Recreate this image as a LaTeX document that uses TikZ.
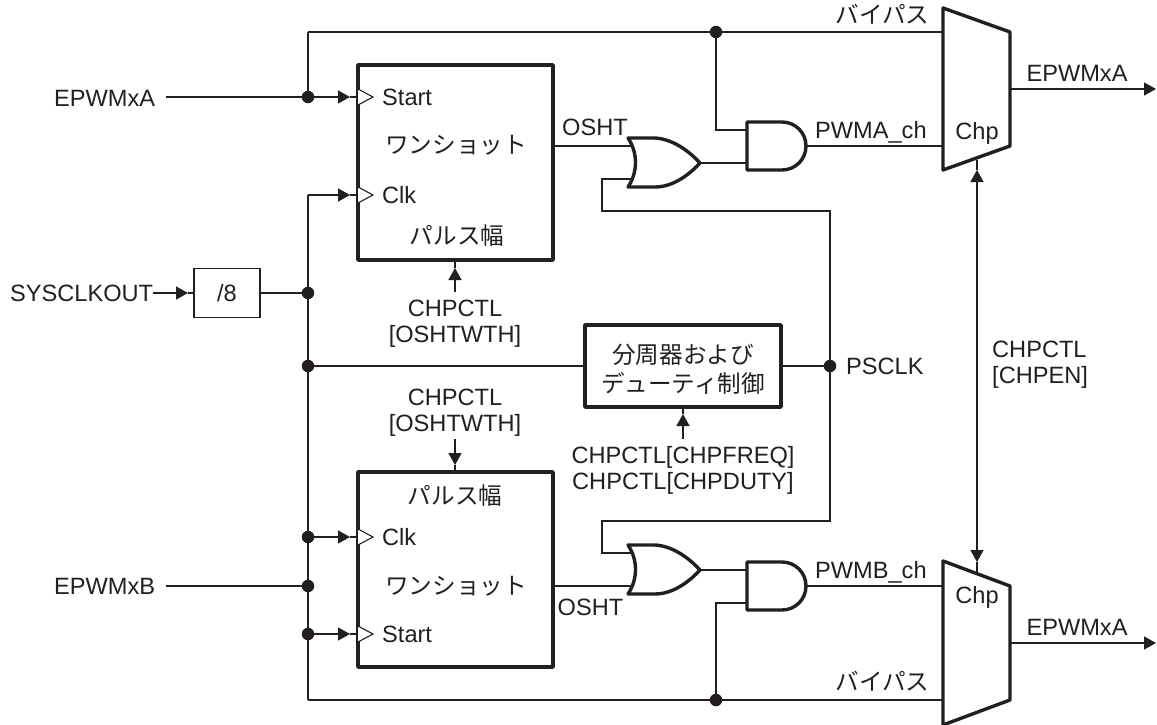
\documentclass[tikz,border=0pt]{standalone}
\usepackage{fontspec}
\setmainfont{Liberation Sans}
\newfontfamily\jp{Noto Sans CJK JP}
\usetikzlibrary{arrows.meta}
\definecolor{ink}{HTML}{231F20}
\tikzset{
  wire/.style={draw=ink,line width=1.4pt},
  arrowwire/.style={wire,-{Triangle[length=12pt,width=13pt]}},
  twoarrow/.style={wire,{Triangle[length=12pt,width=13pt]}-{Triangle[length=12pt,width=13pt]}},
  thick box/.style={draw=ink,fill=white,line width=3.6pt,line join=round,inner sep=0pt},
  block/.style={thick box,minimum width=195pt,minimum height=195pt},
  divbox/.style={draw=ink,fill=white,line width=1.4pt,minimum width=66pt,minimum height=49pt,inner sep=0pt,text=ink},
  dot/.style={circle,fill=ink,draw=none,minimum size=12.5pt,inner sep=0pt},
  lbl/.style={text=ink,inner sep=0pt,text height=17pt,text depth=0pt},
  lblL/.style={lbl,anchor=west},
  multi/.style={text=ink,inner sep=0pt,align=center},
  clkpin/.style={draw=ink,fill=white,line width=1.1pt,line join=miter},
  gate/.style={draw=ink,fill=white,line width=3.4pt,line join=round},
}
\begin{document}
\begin{tikzpicture}[x=1pt,y=-1pt,font=\fontsize{23.6}{26}\selectfont]
\useasboundingbox (0,0) rectangle (1157,725);
\fill[white] (0,0) rectangle (1157,725);

% junctions
\node[dot] (jTop) at (308,97) {};
\node[dot] (jClk) at (308,293) {};
\node[dot] (jDiv) at (308,366) {};
\node[dot] (jCb) at (308,537) {};
\node[dot] (jB) at (308,586) {};
\node[dot] (jSb) at (308,634) {};
\node[dot] (jByA) at (716,32) {};
\node[dot] (jByB) at (716,700) {};
\node[dot] (jPs) at (830,366) {};

% helper points
\coordinate (cTL) at (308,32);
\coordinate (cBL) at (308,700);
\coordinate (cClkT) at (308,195);
\coordinate (pinSa) at (358,97);
\coordinate (pinCa) at (358,195);
\coordinate (pinCb) at (358,537);
\coordinate (pinSb) at (358,634);
\coordinate (tipSa) at (350,97);
\coordinate (tipCa) at (350,195);
\coordinate (tipCb) at (350,537);
\coordinate (tipSb) at (350,634);
\coordinate (orAin1) at (632,146);
\coordinate (orAin2) at (632,179);
\coordinate (orAout) at (700,163);
\coordinate (orBin1) at (632,553);
\coordinate (orBin2) at (632,586);
\coordinate (orBout) at (700,570);
\coordinate (andAin1) at (747,130);
\coordinate (andAin2) at (747,163);
\coordinate (andAout) at (806,146);
\coordinate (andBin1) at (747,570);
\coordinate (andBin2) at (747,603);
\coordinate (andBout) at (806,586);
\coordinate (muxAby) at (943,32);
\coordinate (muxApw) at (943,146);
\coordinate (muxAout) at (1010,89);
\coordinate (muxAsel) at (977,160);
\coordinate (muxBby) at (943,700);
\coordinate (muxBpw) at (943,586);
\coordinate (muxBout) at (1010,643);
\coordinate (muxBsel) at (977,572);
\coordinate (endA) at (1156,89);
\coordinate (endB) at (1156,643);
\coordinate (tipSelA) at (977,170);
\coordinate (tipSelB) at (977,562);
\coordinate (sA) at (166,97);
\coordinate (sB) at (166,586);
\coordinate (sysEnd) at (153,293);
\coordinate (sysTip) at (188,293);
\coordinate (ctA) at (455,292);
\coordinate (ctAtip) at (455,268);
\coordinate (ctB) at (455,439);
\coordinate (ctBtip) at (455,465);
\coordinate (ctD) at (683,439);
\coordinate (ctDtip) at (683,414);
\coordinate (oshtA) at (553,146);
\coordinate (oshtB) at (553,586);

% blocks
\node[block] (osA) at (455.5,162.5) {};
\node[block] (osB) at (455.5,569.5) {};
\node[thick box,minimum width=196pt,minimum height=82pt,text=ink,align=center] (dv) at (683,366)
  {\rule{0pt}{26pt}\jp 分周器および\\[3pt]\jp デューティ制御};
\node[divbox] (d8) at (227,293) {/8};

% text labels with free ends
\node[lbl,anchor=west] (tA) at (54,98) {EPWMxA};
\node[lbl,anchor=west] (tB) at (54,586) {EPWMxB};
\node[lbl,anchor=west] (tS) at (10,293) {SYSCLKOUT};

% wires
\draw[wire] (sA) -- (jTop);
\draw[wire] (sB) -- (jB);
\draw[wire] (cTL) -- (jTop);
\draw[arrowwire] (jTop) -- (tipSa);
\draw[wire] (tipSa) -- (pinSa);
\draw[wire] (cClkT) -- (cBL);
\draw[arrowwire] (cClkT) -- (tipCa);
\draw[wire] (tipCa) -- (pinCa);
\draw[arrowwire] (jCb) -- (tipCb);
\draw[wire] (tipCb) -- (pinCb);
\draw[arrowwire] (jSb) -- (tipSb);
\draw[wire] (tipSb) -- (pinSb);
\draw[wire] (cTL) -- (muxAby);
\draw[wire] (cBL) -- (muxBby);
\draw[arrowwire] (sysEnd) -- (sysTip);
\draw[wire] (sysTip) -- (d8.west);
\draw[wire] (d8.east) -- (jClk);
\draw[wire] (jDiv) -- (dv.west);
\draw[wire] (dv.east) -- (jPs);

% OR / AND wiring
\draw[wire] (oshtA) -- (orAin1);
\draw[wire] (oshtB) -- (orBin2);
\draw[wire] (orAin2) -- (602,179) -- (602,211) -- (830,211) -- (830,521) -- (602,521) -- (602,553) -- (orBin1);
\draw[wire] (orAout) -- (andAin2);
\draw[wire] (orBout) -- (andBin1);
\draw[wire] (jByA) -- (716,130) -- (andAin1);
\draw[wire] (jByB) -- (716,603) -- (andBin2);
\draw[wire] (andAout) -- (muxApw);
\draw[wire] (andBout) -- (muxBpw);
\draw[arrowwire] (muxAout) -- (endA);
\draw[arrowwire] (muxBout) -- (endB);

% selection line
\draw[twoarrow] (tipSelA) -- (tipSelB);
\draw[wire] (muxAsel) -- (tipSelA);
\draw[wire] (muxBsel) -- (tipSelB);

% control arrows
\draw[arrowwire] (ctA) -- (ctAtip);
\draw[wire] (ctAtip) -- (osA.south -| ctAtip);
\draw[arrowwire] (ctB) -- (ctBtip);
\draw[wire] (ctBtip) -- (osB.north -| ctBtip);
\draw[arrowwire] (ctD) -- (ctDtip);
\draw[wire] (ctDtip) -- (dv.south);

% clock pins
\draw[clkpin] (pinSa)++(0,-8) -- ++(15,8) -- ++(-15,8);
\draw[clkpin] (pinCa)++(0,-8) -- ++(15,8) -- ++(-15,8);
\draw[clkpin] (pinCb)++(0,-8) -- ++(15,8) -- ++(-15,8);
\draw[clkpin] (pinSb)++(0,-8) -- ++(15,8) -- ++(-15,8);

% gates
\draw[gate] (628,138) -- (655,138) .. controls (672,139) and (688,150) .. (700,163)
  .. controls (688,176) and (672,187) .. (655,187) -- (628,187)
  .. controls (638,172) and (638,153) .. cycle;
\draw[gate] (628,545) -- (655,545) .. controls (672,546) and (688,557) .. (700,570)
  .. controls (688,583) and (672,594) .. (655,594) -- (628,594)
  .. controls (638,579) and (638,560) .. cycle;
\draw[gate] (747,122) -- (782,122) .. controls (795.3,122) and (806,132.7) .. (806,146)
  .. controls (806,159.3) and (795.3,170) .. (782,170) -- (747,170) -- cycle;
\draw[gate] (747,562) -- (782,562) .. controls (795.3,562) and (806,572.7) .. (806,586)
  .. controls (806,599.3) and (795.3,610) .. (782,610) -- (747,610) -- cycle;

% multiplexers
\draw[gate] (943,8) -- (1010,32) -- (1010,146) -- (943,170) -- cycle;
\draw[gate] (943,561) -- (1010,586) -- (1010,700) -- (943,725) -- cycle;

% labels
\node[lblL] (lSa) at (382,97) {Start};
\node[lblL] (lCa) at (382,195) {Clk};
\node[lblL] (lCb) at (382,537) {Clk};
\node[lblL] (lSb) at (382,634) {Start};
\node[lbl] (wA) at (456,145) {\jp ワンショット};
\node[lbl] (wB) at (456,586) {\jp ワンショット};
\node[lbl] (pA) at (457,236) {\jp パルス幅};
\node[lbl] (pB) at (455,496) {\jp パルス幅};
\node[lbl] (oA) at (595,127) {OSHT};
\node[lbl] (oB) at (590.5,607) {OSHT};
\node[lblL] (pwA) at (815,130) {PWMA\_ch};
\node[lblL] (pwB) at (815,570) {PWMB\_ch};
\node[lbl] (byA) at (882.5,15) {\jp バイパス};
\node[lbl] (byB) at (882.5,682) {\jp バイパス};
\node[lbl] (eA) at (1077,73) {EPWMxA};
\node[lbl] (eB) at (1077,627) {EPWMxA};
\node[lbl] (chA) at (977,131) {Chp};
\node[lbl] (chB) at (977,595) {Chp};
\node[lblL] (ps) at (846,366) {PSCLK};
\node[multi] (c1) at (455,324) {CHPCTL\\{[OSHTWTH]}};
\node[multi] (c2) at (455,413) {CHPCTL\\{[OSHTWTH]}};
\node[multi] (c3) at (683,470) {CHPCTL[CHPFREQ]\\CHPCTL[CHPDUTY]};
\node[multi,align=left,anchor=west] (c4) at (992,365) {CHPCTL\\{[CHPEN]}};
\end{tikzpicture}
\end{document}
